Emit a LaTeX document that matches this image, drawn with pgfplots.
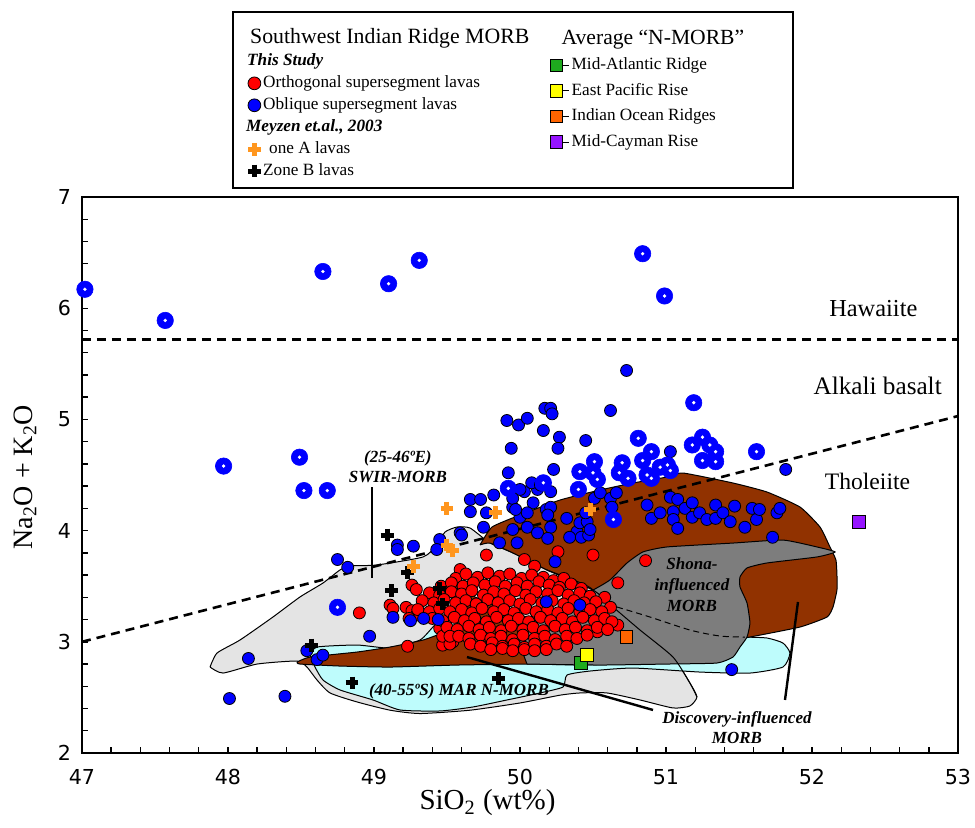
\documentclass[border=0pt]{standalone}
\usepackage{fontspec}
\setmainfont{Liberation Serif}
\newfontfamily\dejavu{DejaVu Sans}
\usepackage{pgfplots}
\usepackage{pgfplotstable}
\pgfplotsset{compat=1.18}

\definecolor{fieldgray}{RGB}{228,228,228}
\definecolor{fieldcyan}{RGB}{190,252,252}
\definecolor{fieldbrown}{RGB}{145,50,0}
\definecolor{fielddark}{RGB}{125,125,125}
\definecolor{plusorange}{RGB}{255,150,30}
\definecolor{margreen}{RGB}{30,170,30}
\definecolor{epryellow}{RGB}{255,255,0}
\definecolor{iororange}{RGB}{255,100,0}
\definecolor{mcrpurple}{RGB}{150,20,255}

\pgfplotsset{
  dotlegend/.style={legend image code/.code={%
    \draw[mark repeat=2,mark phase=2,##1] plot coordinates {(0cm,0cm)(0.14cm,0cm)(0.33cm,0cm)};}},
  dotlegendwide/.style={legend image code/.code={%
    \path (0.14cm,0cm) -- (0.36cm,0cm);
    \draw[##1] plot coordinates {(0.14cm,0cm)};}},
}

% ---------- compositional fields ----------
\pgfplotstableread{
x y
47.877 2.773
47.925 2.899
48.082 3.016
48.308 3.223
48.493 3.403
48.651 3.529
48.767 3.646
48.836 3.682
49.021 3.691
49.336 3.763
49.432 3.871
49.486 3.987
49.568 4.032
49.658 4.023
49.795 3.888
49.952 3.799
50.185 3.646
50.500 3.466
50.637 3.313
50.822 3.106
51.048 2.863
51.164 2.629
51.212 2.504
51.164 2.423
51.048 2.405
50.822 2.477
50.596 2.540
50.411 2.540
50.274 2.520
50.000 2.450
49.658 2.385
49.315 2.355
49.110 2.385
48.884 2.459
48.699 2.540
48.610 2.656
48.541 2.773
48.473 2.827
48.199 2.800
47.966 2.719
47.877 2.773
}\swirfield

\pgfplotstableread{
x y
48.562 2.881
48.610 2.953
48.884 2.971
49.110 2.944
49.315 3.016
49.418 3.151
49.521 3.214
49.658 3.196
49.863 3.106
50.274 3.016
50.685 3.016
51.233 3.052
51.527 3.043
51.692 3.034
51.801 2.989
51.849 2.899
51.801 2.773
51.575 2.719
51.233 2.728
50.774 2.764
50.479 2.737
50.322 2.701
50.295 2.594
50.137 2.540
49.911 2.477
49.678 2.414
49.452 2.378
49.178 2.387
48.993 2.477
48.767 2.567
48.651 2.656
48.596 2.773
48.562 2.881
}\marfield

\pgfplotstableread{
x y
49.726 3.871
49.808 4.032
50.000 4.140
50.274 4.275
50.548 4.365
50.774 4.428
51.007 4.482
51.116 4.518
51.459 4.428
51.692 4.347
51.918 4.212
52.055 4.032
52.123 3.853
52.164 3.736
52.171 3.601
52.171 3.466
52.144 3.313
52.103 3.223
51.918 3.133
51.575 3.043
51.370 2.998
50.890 2.926
50.548 3.016
50.500 3.466
50.185 3.646
49.952 3.799
49.795 3.888
49.726 3.871
}\discmain

\pgfplotstableread{
x y
48.473 2.818
48.562 2.863
48.884 2.908
49.110 2.953
49.336 3.016
49.486 3.088
49.562 3.142
49.534 3.376
49.500 3.556
49.568 3.538
49.692 3.403
50.000 3.241
50.274 3.151
50.548 3.016
50.548 2.800
50.048 2.800
49.568 2.791
49.110 2.773
48.767 2.782
48.493 2.800
48.473 2.818
}\disctail

\pgfplotstableread{
x y
50.048 2.800
50.000 3.016
50.137 3.196
50.342 3.376
50.500 3.466
50.616 3.556
50.733 3.709
50.842 3.808
51.007 3.853
51.459 3.888
51.801 3.915
52.034 3.853
52.158 3.808
52.034 3.763
51.692 3.709
51.555 3.664
51.507 3.583
51.507 3.493
51.555 3.349
51.575 3.169
51.555 3.043
51.507 2.953
51.459 2.863
51.349 2.809
51.007 2.800
50.548 2.791
50.048 2.800
}\shonafield

% ---------- samples ----------
\pgfplotstableread{
x y
48.90 3.26
49.11 3.33
49.13 3.30
49.22 3.31
49.26 3.28
49.29 3.24
49.24 3.21
49.23 2.96
49.26 3.51
49.29 3.47
49.47 2.97
49.54 3.00
49.59 3.65
49.77 3.78
50.03 3.74
50.10 3.68
50.26 3.81
50.50 3.78
50.86 3.73
50.67 3.53
50.58 3.40
50.62 3.31
50.67 3.15
50.60 3.18
50.53 3.09
49.45 3.12
49.47 3.05
49.52 2.98
49.56 3.57
49.63 3.61
49.71 3.58
49.78 3.62
49.86 3.59
49.93 3.61
50.01 3.57
50.08 3.60
50.16 3.58
50.23 3.55
50.30 3.57
49.46 3.50
49.53 3.53
49.61 3.50
49.68 3.53
49.76 3.51
49.83 3.54
49.90 3.50
49.98 3.53
50.05 3.50
50.13 3.54
50.20 3.51
50.27 3.49
50.35 3.52
50.42 3.48
49.38 3.44
49.45 3.42
49.53 3.45
49.60 3.43
49.67 3.46
49.75 3.42
49.82 3.45
49.89 3.43
49.97 3.46
50.04 3.42
50.11 3.45
50.19 3.43
50.26 3.46
50.33 3.42
50.41 3.44
50.48 3.41
49.33 3.37
49.41 3.35
49.48 3.38
49.56 3.35
49.63 3.37
49.70 3.34
49.78 3.38
49.85 3.35
49.93 3.37
50.00 3.34
50.07 3.38
50.15 3.35
50.22 3.37
50.30 3.34
50.37 3.37
50.44 3.35
50.52 3.36
49.30 3.29
49.38 3.27
49.45 3.30
49.52 3.27
49.60 3.29
49.67 3.26
49.74 3.30
49.82 3.27
49.89 3.29
49.96 3.26
50.04 3.30
50.11 3.27
50.19 3.29
50.26 3.26
50.33 3.30
50.41 3.27
50.48 3.29
50.56 3.27
49.40 3.21
49.47 3.19
49.55 3.22
49.62 3.19
49.69 3.21
49.77 3.18
49.84 3.22
49.92 3.19
49.99 3.21
50.06 3.18
50.14 3.22
50.21 3.19
50.29 3.21
50.36 3.18
50.43 3.22
50.51 3.19
50.58 3.21
50.63 3.18
49.50 3.13
49.57 3.11
49.65 3.14
49.72 3.11
49.79 3.13
49.87 3.10
49.94 3.14
50.02 3.11
50.09 3.13
50.16 3.10
50.24 3.14
50.31 3.11
50.38 3.13
50.46 3.10
50.53 3.13
50.60 3.11
49.52 3.05
49.58 3.05
49.65 3.03
49.73 3.06
49.80 3.03
49.87 3.05
49.95 3.02
50.02 3.06
50.10 3.03
50.17 3.05
50.24 3.02
50.32 3.05
50.39 3.03
50.46 3.06
49.66 2.98
49.73 2.96
49.81 2.99
49.88 2.96
49.96 2.98
50.03 2.95
50.10 2.98
50.18 2.96
50.25 2.98
50.32 2.96
49.80 2.93
49.88 2.94
49.95 2.92
50.03 2.93
50.10 2.92
50.18 2.93
}\orthogonal

\pgfplotstableread{
x y
50.73 5.44
50.62 5.08
49.91 4.99
49.99 4.95
50.05 5.01
50.17 5.10
50.21 5.10
50.22 5.05
50.16 4.90
50.27 4.84
50.26 4.74
49.94 4.74
50.45 4.81
50.23 4.55
49.92 4.52
51.03 4.71
51.82 4.55
49.66 4.28
49.73 4.28
49.82 4.32
49.66 4.17
49.77 4.16
49.75 4.03
49.95 4.21
50.03 4.35
50.12 4.37
50.09 4.25
50.00 4.12
49.95 4.01
50.05 4.03
50.18 4.19
50.21 4.03
50.12 3.98
49.86 3.89
49.98 3.89
49.59 3.98
49.45 3.92
49.43 3.83
49.60 3.96
50.08 4.43
50.14 4.41
50.00 4.37
49.95 4.29
49.97 4.19
50.05 4.16
50.21 4.35
50.21 4.21
50.19 4.14
50.19 3.93
50.24 3.72
50.39 3.99
50.32 4.11
50.34 3.94
50.42 3.94
50.47 3.96
50.41 4.07
50.46 4.08
50.48 4.01
50.45 4.16
50.51 4.29
50.55 4.34
50.62 4.29
50.63 4.21
50.66 4.34
50.87 4.23
50.90 4.11
50.96 4.16
51.03 4.30
51.08 4.28
51.05 4.17
51.05 4.10
51.08 4.02
51.13 4.20
51.18 4.25
51.18 4.12
51.23 4.16
51.28 4.10
51.34 4.23
51.34 4.11
51.39 4.16
51.44 4.08
51.47 4.22
51.54 4.03
51.59 4.20
51.62 4.10
51.64 4.19
51.73 3.94
51.76 4.16
51.78 4.20
50.18 3.36
50.41 3.33
48.75 3.74
48.82 3.67
49.16 3.87
49.16 3.83
49.27 3.86
48.97 3.05
49.13 3.22
49.25 3.19
49.34 3.21
49.44 3.20
48.14 2.85
48.54 2.92
48.61 2.84
48.65 2.88
48.01 2.49
48.39 2.51
51.45 2.75
}\oblique

\pgfplotstableread{
x y
47.02 6.17
47.57 5.89
48.65 6.33
49.10 6.22
49.31 6.43
50.84 6.49
50.99 6.11
47.97 4.58
48.49 4.66
48.52 4.36
48.68 4.36
48.75 3.31
49.92 4.38
50.16 4.43
50.40 4.37
50.41 4.53
50.51 4.62
50.53 4.46
50.50 4.52
50.70 4.61
50.68 4.52
50.74 4.47
50.81 4.83
50.90 4.71
50.84 4.63
50.87 4.50
50.90 4.47
51.01 4.59
51.03 4.54
50.96 4.57
51.18 4.77
51.25 4.84
51.30 4.77
51.34 4.71
51.25 4.63
51.34 4.62
51.62 4.71
51.19 5.15
50.64 4.10
}\obliquering

\pgfplotstableread{
x y
49.50 4.20
49.50 3.87
49.54 3.82
49.27 3.68
49.83 4.16
50.48 4.19
}\zoneA

\pgfplotstableread{
x y
48.57 2.97
48.85 2.63
49.09 3.96
49.12 3.46
49.23 3.62
49.45 3.48
49.47 3.34
49.85 2.67
}\zoneB

\begin{document}
\begin{tikzpicture}
\useasboundingbox (-41pt,-37pt) rectangle (446.5pt,376.5pt);
\begin{axis}[
  at={(0,0)}, anchor=south west,
  width=438pt, height=278pt, scale only axis,
  xmin=47, xmax=53, ymin=2, ymax=7,
  xtick={47,48,...,53}, ytick={2,3,...,7},
  minor x tick num=4, minor y tick num=4,
  tick pos=left, tick align=inside,
  major tick length=3.2pt, minor tick length=3pt,
  every tick/.style={black, line width=0.7pt},
  axis line style={line width=1.3pt},
  /pgf/number format/assume math mode=true,
  ticklabel style={font=\dejavu\fontsize{10.3}{12}\selectfont},
  xticklabel style={yshift=-4.5pt},
  yticklabel style={xshift=-2pt},
  xlabel={SiO\textsubscript{2} (wt\%)},
  ylabel={Na\textsubscript{2}O + K\textsubscript{2}O},
  xlabel style={at={(axis description cs:0.4629,-0.0899)}, anchor=center, font=\fontsize{14.5}{16}\selectfont},
  ylabel style={at={(axis description cs:-0.0651,0.496)}, anchor=center, font=\fontsize{14}{16}\selectfont},
  clip=false,
  legend cell align=left,
  legend style={at={(axis description cs:0.1804,1.3147)}, anchor=north west,
    draw=none, fill=none, font=\fontsize{8.6}{9.7}\selectfont,
    row sep=1.1pt, nodes={inner sep=1.2pt}},
]
% legend entries (left block)
\addlegendimage{empty legend}
\addlegendentry{\hspace*{-6.5pt}\fontsize{10.9}{12}\selectfont Southwest Indian Ridge MORB}
\addlegendimage{empty legend}
\addlegendentry{\hspace*{-8pt}\bfseries\itshape This Study}
\addlegendimage{only marks, dotlegend, mark=*, mark size=3.2pt, mark options={fill=red, draw=black, line width=0.4pt}}
\addlegendentry{Orthogonal supersegment lavas}
\addlegendimage{only marks, dotlegend, mark=*, mark size=3.2pt, mark options={fill=blue, draw=black, line width=0.4pt}}
\addlegendentry{Oblique supersegment lavas}
\addlegendimage{empty legend}
\addlegendentry{\hspace*{-8.5pt}\bfseries\itshape Meyzen et.al., 2003}
\addlegendimage{only marks, dotlegend, mark=+, mark size=3.2pt, plusorange, mark options={line width=2.5pt}}
\addlegendentry{\hspace{3pt}one A lavas}
\addlegendimage{only marks, dotlegend, mark=+, mark size=3.2pt, black, mark options={line width=2.5pt}}
\addlegendentry{Zone B lavas}

% fields
\addplot[forget plot, fill=fieldgray, draw=black, line width=0.5pt, smooth, tension=0.35] table {\swirfield};
\addplot[forget plot, fill=fieldcyan, draw=black, line width=0.5pt, smooth, tension=0.35] table {\marfield};
\addplot[forget plot, fill=fieldbrown, draw=black, line width=0.5pt, smooth, tension=0.3] table {\discmain};
\addplot[forget plot, fill=fieldbrown, draw=black, line width=0.5pt, smooth, tension=0.3] table {\disctail};
\addplot[forget plot, fill=fielddark, draw=black, line width=0.5pt, smooth, tension=0.3] table {\shonafield};
% SWIR field boundary seen through the Shona field
\addplot[forget plot, draw=black, line width=0.5pt, smooth, tension=0.35] coordinates {
  (50.185,3.646) (50.500,3.466) (50.637,3.313) (50.822,3.106) (51.048,2.863) (51.164,2.629) (51.212,2.504)};
\addplot[forget plot, draw=black, line width=0.5pt, dash pattern=on 3pt off 2pt, smooth] coordinates {
  (50.664,3.313) (50.890,3.223) (51.164,3.106) (51.370,3.052) (51.541,3.043)};

% alkaline / tholeiitic divides
\addplot[forget plot, draw=black, line width=1.3pt, dash pattern=on 4.5pt off 3pt] coordinates {(47,5.72) (53,5.72)};
\addplot[forget plot, draw=black, line width=1.3pt, dash pattern=on 4.5pt off 3pt] coordinates {(47,3.0) (53,5.03)};

% leader lines
\addplot[forget plot, draw=black, line width=1pt] coordinates {(48.986,4.392) (48.986,3.574)};
\addplot[forget plot, draw=black, line width=1.2pt] coordinates {(49.637,2.863) (50.911,2.387)};
\addplot[forget plot, draw=black, line width=1.2pt] coordinates {(51.904,3.358) (51.815,2.477)};

% samples
\addplot[forget plot, only marks, mark=*, mark size=3pt, mark options={fill=red, draw=black, line width=0.4pt}] table {\orthogonal};
\addplot[forget plot, only marks, mark=*, mark size=3pt, mark options={fill=blue, draw=black, line width=0.4pt}] table {\oblique};
\addplot[forget plot, only marks, mark=*, mark size=4.1pt, mark options={fill=blue, draw=blue, line width=0.3pt}] table {\obliquering};
\addplot[forget plot, only marks, mark=*, mark size=0.8pt, mark options={fill=white, draw=white, line width=0.1pt}] table {\obliquering};
\addplot[forget plot, only marks, mark=+, mark size=3.2pt, color=black, mark options={line width=2.5pt}] table {\zoneB};
\addplot[forget plot, only marks, mark=+, mark size=3.2pt, color=plusorange, mark options={line width=2.5pt}] table {\zoneA};
% average N-MORB
\addplot[forget plot, only marks, mark=square*, mark size=3.2pt, mark options={fill=margreen, draw=black, line width=0.5pt}] coordinates {(50.42,2.81)};
\addplot[forget plot, only marks, mark=square*, mark size=3.2pt, mark options={fill=epryellow, draw=black, line width=0.5pt}] coordinates {(50.46,2.88)};
\addplot[forget plot, only marks, mark=square*, mark size=3.2pt, mark options={fill=iororange, draw=black, line width=0.5pt}] coordinates {(50.73,3.04)};
\addplot[forget plot, only marks, mark=square*, mark size=3.2pt, mark options={fill=mcrpurple, draw=black, line width=0.5pt}] coordinates {(52.32,4.08)};

% field and region names
\node[font=\fontsize{12.2}{13}\selectfont] at (axis cs:52.42,6.0) {Hawaiite};
\node[font=\fontsize{12.6}{13}\selectfont] at (axis cs:52.45,5.30) {Alkali basalt};
\node[font=\fontsize{11.8}{13}\selectfont] at (axis cs:52.38,4.446) {Tholeiite};
\node[font=\fontsize{8.5}{10}\selectfont\bfseries\itshape, align=center] at (axis cs:49.164,4.572) {(25-46ºE)\\SWIR-MORB};
\node[font=\fontsize{8.5}{10}\selectfont\bfseries\itshape] at (axis cs:49.582,2.558) {(40-55ºS) MAR N-MORB};
\node[font=\fontsize{8.5}{10.5}\selectfont\bfseries\itshape, align=center] at (axis cs:51.178,3.511) {Shona-\\influenced\\MORB};
\node[font=\fontsize{8.5}{10}\selectfont\bfseries\itshape, align=center] at (axis cs:51.486,2.225) {Discovery-influenced\\MORB};

% legend frame
\draw[line width=1.25pt] (rel axis cs:0.1724,1.0162) rectangle (rel axis cs:0.8116,1.3327);
\end{axis}

\begin{axis}[
  at={(0,0)}, anchor=south west,
  width=438pt, height=278pt, scale only axis,
  hide axis, xmin=0, xmax=1, ymin=0, ymax=1,
  legend cell align=left,
  legend style={at={(axis description cs:0.5251,1.3129)}, anchor=north west,
    draw=none, fill=none, font=\fontsize{8.6}{9.7}\selectfont,
    row sep=2.9pt, nodes={inner sep=1.2pt}},
]
\addlegendimage{empty legend}
\addlegendentry{\hspace*{-5pt}\fontsize{10.8}{12}\selectfont Average “N-MORB”}
\addlegendimage{only marks, dotlegendwide, mark=square*, mark size=3.1pt, mark options={fill=margreen, draw=black, line width=0.5pt}}
\addlegendentry{Mid-Atlantic Ridge}
\addlegendimage{only marks, dotlegendwide, mark=square*, mark size=3.1pt, mark options={fill=epryellow, draw=black, line width=0.5pt}}
\addlegendentry{East Pacific Rise}
\addlegendimage{only marks, dotlegendwide, mark=square*, mark size=3.1pt, mark options={fill=iororange, draw=black, line width=0.5pt}}
\addlegendentry{Indian Ocean Ridges}
\addlegendimage{only marks, dotlegendwide, mark=square*, mark size=3.1pt, mark options={fill=mcrpurple, draw=black, line width=0.5pt}}
\addlegendentry{Mid-Cayman Rise}
\end{axis}
\end{tikzpicture}
\end{document}
